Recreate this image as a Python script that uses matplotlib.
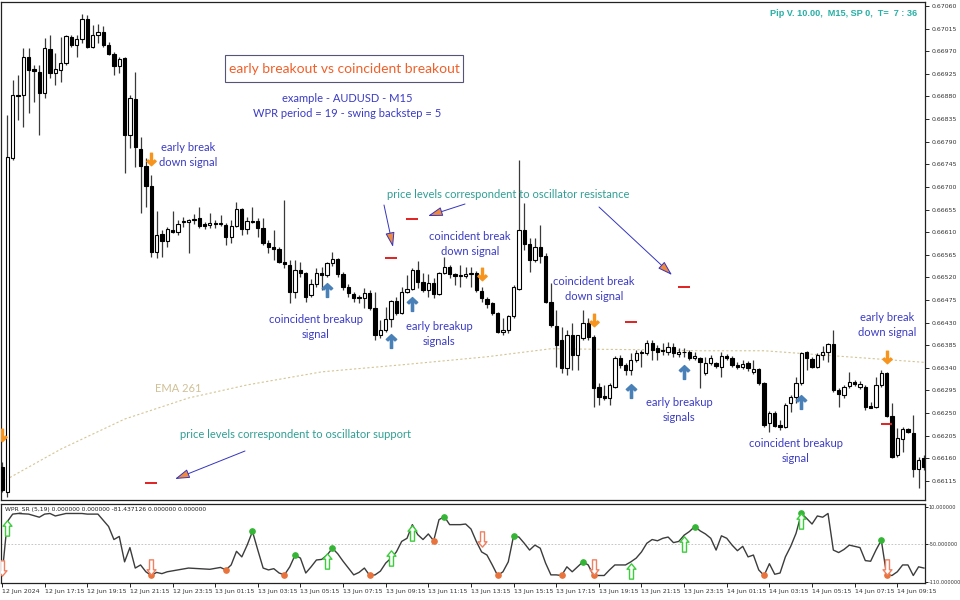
import numpy as np
import matplotlib
matplotlib.use('Agg')
from matplotlib import pyplot as plt
from matplotlib.path import Path
from matplotlib.patches import Rectangle

# AUDUSD M15 candles, prices in points (x 1e-5), bar 0 = 12 Jun 15:15
opens = [66143, 66093, 66758, 66883, 66883, 66959, 66935, 66929, 66887, 66974,
         66927, 66933, 66947, 66998, 66982, 66994, 67034, 66978, 67002, 67008,
         66982, 66965, 66941, 66957, 66803, 66875, 66775, 66742, 66702, 66571,
         66606, 66592, 66614, 66610, 66630, 66630, 66634, 66638, 66626, 66624,
         66628, 66626, 66624, 66600, 66622, 66656, 66616, 66632, 66632, 66618,
         66588, 66580, 66576, 66551, 66545, 66491, 66535, 66529, 66485, 66507,
         66529, 66525, 66549, 66557, 66527, 66501, 66487, 66481, 66479, 66489,
         66459, 66405, 66415, 66437, 66473, 66449, 66491, 66497, 66535, 66511,
         66495, 66509, 66487, 66529, 66541, 66527, 66523, 66523, 66527, 66529,
         66493, 66477, 66469, 66449, 66411, 66415, 66443, 66497, 66614, 66586,
         66555, 66580, 66563, 66471, 66423, 66395, 66340, 66405, 66366, 66399,
         66429, 66401, 66302, 66284, 66280, 66302, 66360, 66346, 66336, 66356,
         66370, 66370, 66389, 66379, 66375, 66372, 66381, 66368, 66372, 66372,
         66360, 66360, 66330, 66350, 66350, 66342, 66364, 66360, 66346, 66342,
         66350, 66332, 66338, 66310, 66230, 66250, 66226, 66222, 66270, 66282,
         66310, 66372, 66358, 66342, 66366, 66372, 66387, 66296, 66286, 66304,
         66312, 66302, 66302, 66264, 66262, 66306, 66330, 66244, 66167, 66198,
         66218, 66210, 66139, 66161]
highs = [66153, 66843, 66913, 66923, 66976, 66976, 66943, 66943, 66996, 67002,
         66967, 66998, 67002, 67002, 67002, 67044, 67042, 67022, 67024, 67020,
         66988, 66969, 66959, 66959, 66883, 66929, 66799, 66758, 66724, 66652,
         66614, 66620, 66652, 66634, 66640, 66636, 66646, 66660, 66630, 66648,
         66634, 66644, 66628, 66634, 66670, 66658, 66640, 66660, 66638, 66638,
         66594, 66614, 66580, 66674, 66555, 66555, 66551, 66531, 66517, 66539,
         66541, 66551, 66570, 66559, 66531, 66507, 66491, 66485, 66499, 66495,
         66491, 66435, 66461, 66475, 66481, 66501, 66525, 66539, 66553, 66529,
         66527, 66519, 66531, 66561, 66545, 66529, 66545, 66541, 66541, 66533,
         66501, 66481, 66471, 66451, 66439, 66445, 66505, 66754, 66668, 66598,
         66598, 66624, 66569, 66509, 66455, 66421, 66415, 66429, 66395, 66455,
         66439, 66405, 66310, 66306, 66310, 66364, 66366, 66350, 66370, 66376,
         66376, 66395, 66395, 66385, 66389, 66391, 66389, 66380, 66380, 66376,
         66372, 66362, 66362, 66366, 66352, 66372, 66368, 66364, 66352, 66356,
         66354, 66356, 66340, 66312, 66254, 66254, 66236, 66270, 66286, 66322,
         66372, 66374, 66362, 66370, 66383, 66389, 66415, 66300, 66306, 66332,
         66316, 66314, 66306, 66272, 66322, 66336, 66332, 66270, 66220, 66222,
         66220, 66246, 66163, 66167]
lows = [66093, 66083, 66754, 66833, 66819, 66847, 66869, 66803, 66877, 66917,
        66903, 66909, 66943, 66978, 66959, 66986, 66976, 66976, 66986, 66978,
        66963, 66923, 66927, 66728, 66777, 66740, 66648, 66660, 66561, 66559,
        66561, 66580, 66608, 66604, 66620, 66569, 66626, 66618, 66616, 66618,
        66618, 66622, 66584, 66588, 66620, 66604, 66606, 66628, 66600, 66584,
        66569, 66555, 66549, 66539, 66469, 66479, 66521, 66471, 66481, 66501,
        66495, 66521, 66543, 66521, 66495, 66481, 66471, 66469, 66459, 66455,
        66395, 66399, 66411, 66421, 66445, 66447, 66489, 66495, 66499, 66491,
        66481, 66479, 66485, 66527, 66519, 66505, 66501, 66519, 66501, 66491,
        66471, 66459, 66445, 66409, 66405, 66409, 66439, 66495, 66575, 66531,
        66551, 66549, 66469, 66421, 66342, 66330, 66326, 66336, 66336, 66395,
        66395, 66262, 66266, 66276, 66266, 66300, 66340, 66326, 66326, 66352,
        66342, 66366, 66356, 66356, 66366, 66366, 66362, 66362, 66362, 66356,
        66356, 66300, 66326, 66346, 66340, 66322, 66356, 66342, 66338, 66338,
        66334, 66328, 66306, 66222, 66212, 66222, 66216, 66220, 66252, 66270,
        66306, 66336, 66340, 66340, 66356, 66352, 66292, 66262, 66280, 66300,
        66304, 66298, 66256, 66260, 66260, 66302, 66242, 66161, 66163, 66172,
        66210, 66123, 66101, 66137]
closes = [66097, 66760, 66883, 66880, 66959, 66933, 66931, 66887, 66976, 66927,
          66935, 66947, 67000, 66982, 66994, 67034, 66978, 67002, 67008, 66982,
          66965, 66941, 66955, 66803, 66877, 66779, 66742, 66702, 66571, 66604,
          66592, 66616, 66610, 66626, 66632, 66634, 66635, 66622, 66622, 66628,
          66626, 66627, 66600, 66622, 66656, 66616, 66632, 66630, 66618, 66588,
          66580, 66576, 66551, 66547, 66491, 66535, 66529, 66481, 66507, 66529,
          66525, 66549, 66557, 66527, 66501, 66489, 66479, 66478, 66489, 66459,
          66405, 66415, 66437, 66473, 66449, 66491, 66497, 66535, 66511, 66495,
          66509, 66487, 66529, 66541, 66527, 66523, 66524, 66527, 66529, 66495,
          66479, 66467, 66449, 66411, 66415, 66443, 66501, 66614, 66586, 66555,
          66580, 66563, 66471, 66425, 66386, 66340, 66405, 66366, 66405, 66429,
          66401, 66300, 66282, 66280, 66306, 66360, 66346, 66336, 66356, 66370,
          66372, 66389, 66375, 66372, 66373, 66381, 66370, 66372, 66371, 66360,
          66364, 66352, 66350, 66360, 66344, 66364, 66360, 66346, 66342, 66348,
          66340, 66338, 66310, 66226, 66250, 66224, 66222, 66266, 66282, 66310,
          66370, 66360, 66342, 66366, 66372, 66387, 66296, 66288, 66302, 66312,
          66308, 66308, 66262, 66261, 66306, 66330, 66244, 66163, 66200, 66218,
          66212, 66139, 66157, 66143]

# EMA 261 read at a few bars
ema_bars = [0, 11, 23, 35, 46, 60, 75, 91, 103, 120, 131, 143, 156, 173]
ema_vals = [66113, 66178, 66238, 66280, 66306, 66332, 66346, 66362, 66378,
            66376, 66374, 66374, 66364, 66351]

# signals on price
up_bars = [61, 73, 77, 118, 128, 150]
up_prices = [66495, 66393, 66467, 66294, 66332, 66272]
down_bars = [0, 28, 90, 111, 166]
down_prices = [66206, 66756, 66527, 66435, 66362]
level_bars = [28, 73, 77, 118, 128, 166]
level_prices = [66111, 66559, 66636, 66431, 66501, 66228]

# WPR_SR oscillator vertices
wpr_bars = [0, 1, 2, 3, 5, 7, 8, 9, 10, 11, 12, 15, 16, 18, 20, 21, 22, 23, 24, 25,
            26, 27, 28, 29, 30, 31, 33, 35, 37, 39, 41, 42, 43, 44, 45, 46, 47, 48,
            49, 50, 51, 52, 53, 54, 55, 56, 57, 58, 59, 60, 61, 62, 63, 64, 65, 66,
            67, 68, 69, 70, 71, 72, 73, 74, 75, 76, 77, 78, 79, 80, 81, 82, 83, 84,
            86, 87, 88, 89, 90, 91, 92, 93, 94, 95, 96, 97, 98, 99, 100, 101, 102,
            103, 104, 105, 106, 107, 108, 109, 110, 111, 112, 113, 114, 115, 117,
            118, 119, 120, 121, 122, 123, 124, 125, 126, 127, 128, 129, 130, 131,
            132, 133, 134, 135, 136, 137, 138, 139, 140, 141, 142, 143, 144, 145,
            146, 147, 148, 149, 150, 151, 152, 153, 154, 155, 156, 157, 158, 159,
            160, 161, 162, 163, 164, 165, 166, 167, 168, 169, 170, 171, 172, 173]
wpr_vals = [-100, -13, -1, 0, -1, -6, -1, 0, -4, -2, 0, 0, -1, -1, -21, -42, -37,
            -78, -55, -88, -83, -94, -100, -95, -97, -94, -91, -88, -89, -90, -87,
            -91, -83, -61, -70, -51, -29, -59, -88, -91, -89, -96, -99, -86, -67,
            -72, -96, -86, -75, -74, -67, -56, -65, -77, -88, -99, -95, -88, -100,
            -99, -93, -80, -72, -62, -45, -40, -18, -34, -42, -33, -44, -10, -5,
            -18, -18, -17, -25, -45, -62, -67, -83, -100, -94, -78, -36, -38, -48,
            -59, -51, -56, -80, -99, -99, -100, -86, -94, -86, -78, -83, -100,
            -100, -100, -91, -83, -83, -78, -72, -62, -48, -42, -44, -40, -38, -47,
            -45, -35, -29, -21, -28, -33, -40, -59, -36, -40, -51, -60, -53, -70,
            -67, -91, -100, -81, -98, -96, -70, -53, -32, 0, -8, -17, -4, -6, 0,
            -59, -63, -58, -51, -53, -55, -76, -77, -59, -43, -99, -100, -94, -83,
            -83, -100, -86, -88]
peak_bars = [47, 55, 62, 83, 96, 109, 130, 150, 165]
peak_vals = [-29, -67, -56, -5, -36, -78, -21, 0, -43]
trough_bars = [28, 42, 53, 69, 81, 93, 105, 111, 143, 166]
trough_vals = [-100, -91, -99, -100, -44, -100, -100, -100, -100, -99]
osc_up_bars = [1, 61, 73, 77, 118, 128, 150]
osc_up_vals = [-24, -77, -71, -32, -93, -49, -12]
osc_down_bars = [0, 28, 90, 111, 166]
osc_down_vals = [-88, -87, -41, -87, -87]

price_ticks = [0.66115, 0.66160, 0.66205, 0.66250, 0.66295, 0.66340, 0.66385,
               0.66430, 0.66475, 0.66520, 0.66565, 0.66610, 0.66655, 0.66700,
               0.66745, 0.66790, 0.66835, 0.66880, 0.66925, 0.66970, 0.67015,
               0.67060]
osc_ticks = [10, -50, -110]
osc_labels = ['10.000000', '-50.000000', '-110.000000']
time_ticks = [0, 8, 16, 24, 32, 40, 48, 56, 64, 72, 80, 88, 96, 104, 112, 120,
              128, 136, 144, 152, 160, 168]
time_labels = ['12 Jun 2024', '12 Jun 17:15', '12 Jun 19:15', '12 Jun 21:15',
               '12 Jun 23:15', '13 Jun 01:15', '13 Jun 03:15', '13 Jun 05:15',
               '13 Jun 07:15', '13 Jun 09:15', '13 Jun 11:15', '13 Jun 13:15',
               '13 Jun 15:15', '13 Jun 17:15', '13 Jun 19:15', '13 Jun 21:15',
               '13 Jun 23:15', '14 Jun 01:15', '14 Jun 03:15', '14 Jun 05:15',
               '14 Jun 07:15', '14 Jun 09:15']

BLUE_TXT = '#3b3bc4'
TEAL_TXT = '#2f9e94'

def pts(a):
    return np.array(a) / 1e5

def fpx(x, y):
    # figure pixel position, origin top left
    return x / 960, 1 - y / 600

# arrow shapes
solid_up = Path([(0, 1), (0.75, 0.3), (0.5, 0.08), (0.16, 0.45), (0.16, -1),
                 (-0.16, -1), (-0.16, 0.45), (-0.5, 0.08), (-0.75, 0.3), (0, 1)],
                [Path.MOVETO] + [Path.LINETO] * 8 + [Path.CLOSEPOLY])
solid_down = Path(solid_up.vertices * [1, -1], solid_up.codes)
block_up = Path([(0, 1), (0.58, 0.3), (0.26, 0.3), (0.26, -1), (-0.26, -1),
                 (-0.26, 0.3), (-0.58, 0.3), (0, 1)],
                [Path.MOVETO] + [Path.LINETO] * 6 + [Path.CLOSEPOLY])
block_down = Path(block_up.vertices * [1, -1], block_up.codes)

fig = plt.figure(figsize=(9.6, 6), dpi=100)
ax = fig.add_axes([1 / 960, 100 / 600, 924 / 960, 498 / 600])
ax2 = fig.add_axes([1 / 960, 17 / 600, 924 / 960, 79 / 600])

o, h, l, c = pts(opens), pts(highs), pts(lows), pts(closes)
x = np.arange(len(o))
bull = c >= o
ax.vlines(x, l, h, color='#3a3a3a', lw=0.9, zorder=2)
ax.bar(x, np.maximum(np.abs(c - o), 0.000015), 0.62, bottom=np.minimum(o, c),
       color=np.where(bull, 'white', 'black'), edgecolor='black', linewidth=0.8, zorder=3)

ax.plot(ema_bars, pts(ema_vals), color='#d3c594', lw=0.8, ls=(0, (2, 2)), zorder=1)
ax.plot(up_bars, pts(up_prices), ls='none', marker=solid_up, ms=10,
        color='#4a80b8', mec='#4a80b8', zorder=4)
ax.plot(down_bars, pts(down_prices), ls='none', marker=solid_down, ms=9,
        color='#f7941d', mec='#f7941d', zorder=4)
ax.hlines(pts(level_prices), np.array(level_bars) - 1.1, np.array(level_bars) + 1.1,
          color='#e02020', lw=1.4, zorder=4)

ax.set_xlim(-0.19, 173.2)
ax.set_ylim(0.66077, 0.67068)
ax.set_yticks(price_ticks)
ax.set_yticklabels(['%.5f' % v for v in price_ticks])
ax.set_xticks([])
ax.tick_params(axis='y', left=False, labelleft=False, right=True, labelright=True,
               length=3, width=0.6, pad=1.5, labelsize=4.5, labelcolor='#333333')
for s in ax.spines.values():
    s.set_linewidth(0.9)
    s.set_color('#222222')

# oscillator
ax2.axhline(-50, color='#bbbbbb', lw=0.6, ls=(0, (2, 2)))
ax2.plot(wpr_bars, wpr_vals, color='#3c3c3c', lw=1.0, zorder=2)
ax2.plot(peak_bars, peak_vals, ls='none', marker='o', ms=3.8, color='#35b535', zorder=3)
ax2.plot(trough_bars, trough_vals, ls='none', marker='o', ms=3.8, color='#e8733c', zorder=3)
ax2.plot(osc_up_bars, osc_up_vals, ls='none', marker=block_up, ms=11,
         mfc='white', mec='#3ccc3c', mew=1.0, zorder=4)
ax2.plot(osc_down_bars, osc_down_vals, ls='none', marker=block_down, ms=11,
         mfc='white', mec='#f08060', mew=1.0, zorder=4)
ax2.set_xlim(-0.19, 173.2)
ax2.set_ylim(-112.1, 15.3)
ax2.set_yticks(osc_ticks)
ax2.set_yticklabels(osc_labels)
ax2.set_xticks(time_ticks)
ax2.set_xticklabels(time_labels, ha='left')
ax2.tick_params(axis='y', left=False, labelleft=False, right=True, labelright=True,
                length=2, width=0.6, pad=0.8, labelsize=3.6, labelcolor='#333333')
ax2.tick_params(axis='x', length=3, width=0.6, pad=1.5, labelsize=4.5,
                labelcolor='#333333')
for s in ax2.spines.values():
    s.set_linewidth(0.9)
    s.set_color('#222222')
ax2.text(0.004, 0.97, 'WPR_SR (5,19) 0.000000 0.000000 -81.437126 0.000000 0.000000',
         transform=ax2.transAxes, fontsize=4.3, va='top', ha='left', color='#222222')

# annotations
fig.add_artist(Rectangle(fpx(225, 82), 238 / 960, 27 / 600, transform=fig.transFigure,
                         fill=False, ec='#555577', lw=0.8))
fig.text(*fpx(344, 69), 'early breakout vs coincident breakout', fontsize=10,
         family='Lato', color='#f0602a', ha='center', va='center')
notes = [('example - AUDUSD - M15\nWPR period = 19 - swing backstep = 5', 347, 106),
         ('early break\ndown signal', 188, 155),
         ('coincident break\ndown signal', 470, 244),
         ('coincident break\ndown signal', 594, 289),
         ('coincident breakup\nsignal', 316, 327),
         ('early breakup\nsignals', 439, 334),
         ('early breakup\nsignals', 679, 410),
         ('coincident breakup\nsignal', 796, 451),
         ('early break\ndown signal', 887, 325)]
for txt, tx, ty in notes:
    fig.text(*fpx(tx, ty), txt, fontsize=8, family='Lato', color=BLUE_TXT,
             ha='center', va='center', linespacing=1.45)
fig.text(*fpx(508, 195), 'price levels correspondent to oscillator resistance',
         fontsize=8, family='Lato', color=TEAL_TXT, ha='center', va='center')
fig.text(*fpx(295, 435), 'price levels correspondent to oscillator support',
         fontsize=8, family='Lato', color=TEAL_TXT, ha='center', va='center')
fig.text(*fpx(155, 389), 'EMA 261', fontsize=8, family='Lato', color='#cfc096',
         ha='left', va='center')
fig.text(*fpx(917, 14), 'Pip V. 10.00,  M15, SP 0,  T=  7 : 36', fontsize=6.6,
         family='Liberation Sans', weight='bold', color='#26b0a6', ha='right', va='center')

pointers = [((465, 204), (428, 216)), ((384, 205), (393, 247)),
            ((599, 207), (672, 275)), ((245, 451), (175, 479))]
for (x1, y1), (x2, y2) in pointers:
    ax.annotate('', xy=(x2, 600 - y2), xytext=(x1, 600 - y1),
                xycoords='figure pixels', textcoords='figure pixels',
                arrowprops=dict(arrowstyle='-|>,head_length=0.9,head_width=0.28',
                                fc='#f08a3c', ec='#3434c0', lw=0.7,
                                shrinkA=0, shrinkB=0))

fig.savefig('out.png', dpi=100)
